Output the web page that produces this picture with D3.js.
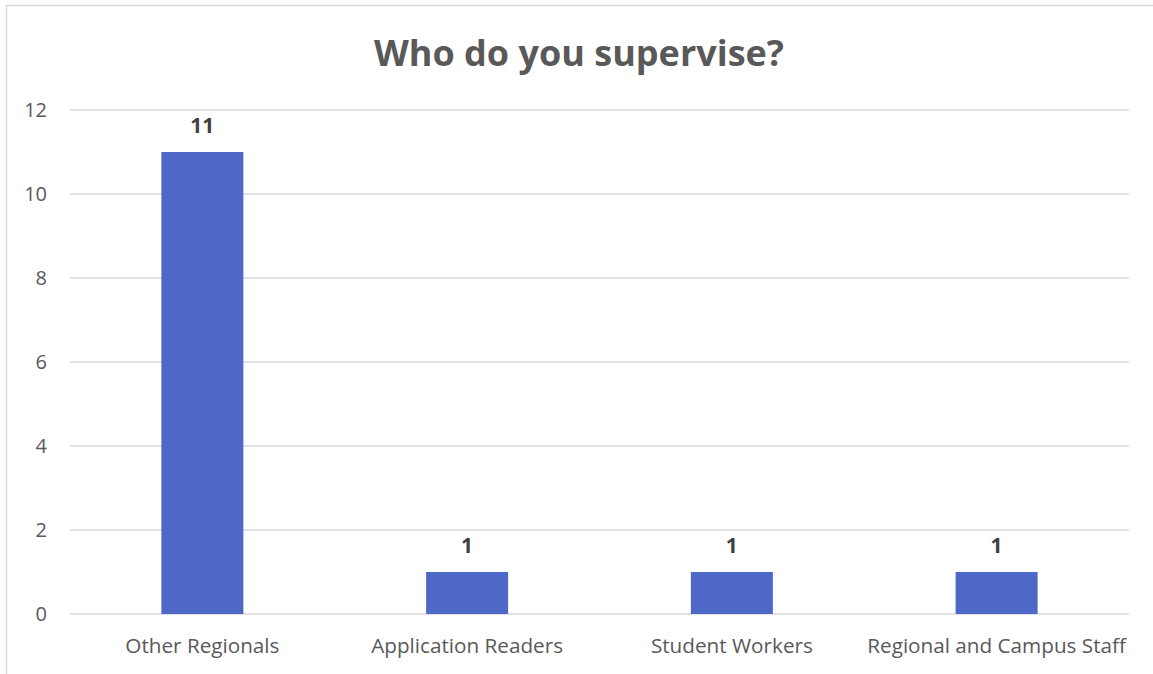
<!DOCTYPE html>
<html><head><meta charset="utf-8">
<script src="https://cdn.jsdelivr.net/npm/d3@7"></script>
<style>html,body{margin:0;padding:0;background:#fff;}svg{display:block;}</style>
</head><body>
<svg id="chart" width="1153" height="674"></svg>
<script>
const categories = ["Other Regionals", "Application Readers", "Student Workers", "Regional and Campus Staff"];
const values = [11, 1, 1, 1];
const yTicks = [0, 2, 4, 6, 8, 10, 12];
const title = "Who do you supervise?";

(function () {
const svg = d3.select("#chart");
const font = "'Open Sans', 'Noto Sans', sans-serif";
// outer frame
svg.append("rect").attr("x", 6.5).attr("y", 5.5).attr("width", 1160).attr("height", 680)
  .attr("fill", "#fff").attr("stroke", "#d9d9d9").attr("stroke-width", 1.5);

const pL = 70, pR = 1129, pT = 110, pB = 614;
const x = d3.scaleBand().domain(categories).range([pL, pR]);
const y = d3.scaleLinear().domain([0, 12]).range([pB, pT]);

// gridlines
svg.append("g").selectAll("line").data(yTicks).join("line")
  .attr("x1", pL).attr("x2", pR)
  .attr("y1", d => y(d)).attr("y2", d => y(d))
  .attr("stroke", "#d9d9d9").attr("stroke-width", 1.5);

// y tick labels
svg.append("g").selectAll("text").data(yTicks).join("text")
  .attr("x", 47).attr("y", d => y(d)).attr("dy", "0.36em")
  .attr("text-anchor", "end").attr("fill", "#595959")
  .attr("font-family", font).attr("font-size", 20).text(d => d);

const bw = 82;
svg.append("g").selectAll("rect").data(values).join("rect")
  .attr("x", (d, i) => x(categories[i]) + x.bandwidth() / 2 - bw / 2)
  .attr("y", d => y(d)).attr("width", bw).attr("height", d => pB - y(d))
  .attr("fill", "#4e68c8");

// data labels
svg.append("g").selectAll("text").data(values).join("text")
  .attr("x", (d, i) => x(categories[i]) + x.bandwidth() / 2)
  .attr("y", d => y(d) - 19)
  .attr("text-anchor", "middle").attr("fill", "#404040")
  .attr("font-family", font).attr("font-weight", "bold").attr("font-size", 21).text(d => d);

// x labels
svg.append("g").selectAll("text").data(categories).join("text")
  .attr("x", d => x(d) + x.bandwidth() / 2).attr("y", 653)
  .attr("text-anchor", "middle").attr("fill", "#595959")
  .attr("font-family", font).attr("font-size", 20.7).text(d => d);

// title
svg.append("text").attr("x", 579).attr("y", 66).attr("text-anchor", "middle")
  .attr("fill", "#595959").attr("font-family", font).attr("font-weight", "bold")
  .attr("font-size", 36).text(title);
})();
</script>
</body></html>
